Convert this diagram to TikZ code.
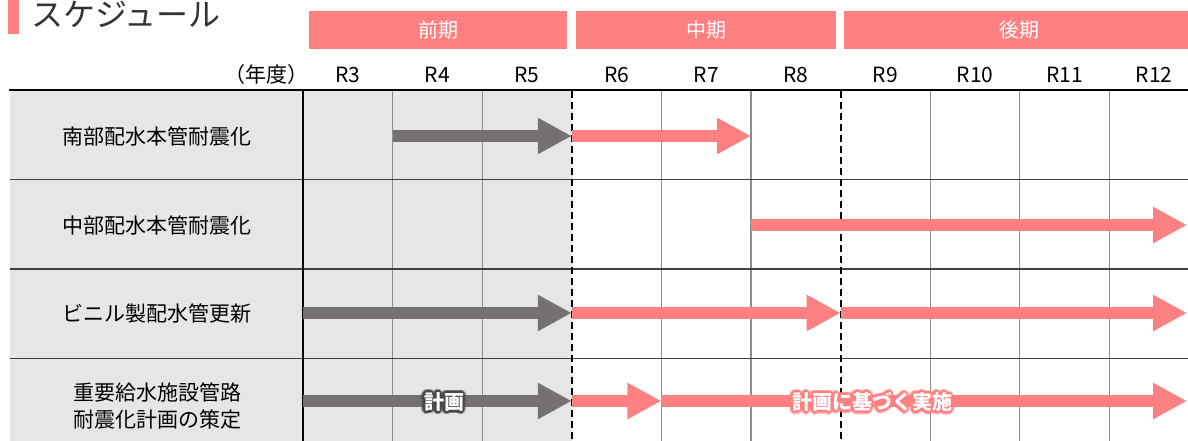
\documentclass[tikz,border=0pt]{standalone}
\usepackage{fontspec}
\setmainfont{Noto Sans CJK JP}
\usetikzlibrary{arrows.meta}
\definecolor{pinkc}{HTML}{FF8080}
\definecolor{grayarrow}{HTML}{767171}
\definecolor{bggray}{HTML}{E7E6E6}
\definecolor{titlegray}{HTML}{333333}
\definecolor{gridgray}{HTML}{8C8C8C}
\definecolor{rowline}{HTML}{404040}
\definecolor{glowgray}{HTML}{4A4747}
\newcommand\lblfont{\fontsize{20}{27}\selectfont}
\newcommand\rowfont{\fontsize{21}{27}\selectfont}
\newcommand\glowlabel[4]{%
  \foreach \a in {0,20,...,340}{%
    \node[text=#3, opacity=0.3, font=\lblfont\bfseries, xshift={3.4*cos(\a)}, yshift={3.4*sin(\a)}] (#1o\a) at (#2) {#4};
    \node[text=#3, font=\lblfont\bfseries, xshift={1.7*cos(\a)}, yshift={1.7*sin(\a)}] (#1i\a) at (#2) {#4};
  }%
  \node[text=white, font=\lblfont\bfseries] (#1) at (#2) {#4};
}
\begin{document}
\begin{tikzpicture}[x=1pt,y=-1pt,
  blockarrow/.style={line width=12pt, -{Triangle[length=34pt,width=34pt]}},
  grayarr/.style={blockarrow, draw=grayarrow},
  pinkarr/.style={blockarrow, draw=pinkc},
  hdrbar/.style={fill=pinkc, draw=none, inner sep=0pt, minimum height=38pt, text=white, font=\lblfont},
  yearlbl/.style={font=\rowfont, text=black, inner sep=0pt},
  rowlbl/.style={font=\rowfont, text=black, align=center, inner sep=0pt},
  thingrid/.style={draw=gridgray, line width=1.3pt},
  phaseline/.style={draw=black, line width=2pt, dash pattern=on 7pt off 4pt},
  rowsep/.style={draw=rowline, line width=1.4pt}
]
\useasboundingbox (0,0) rectangle (1188,441);
\clip (0,0) rectangle (1188,441);

% title
\fill[pinkc] (8,0) rectangle (19,34);
\node[anchor=west, font=\fontsize{32}{32}\selectfont, text=titlegray, inner sep=0pt] (title) at (31,14) {スケジュール};

% phase header bars
\node[hdrbar, minimum width=258pt] (zenki) at (438,30) {前期};
\node[hdrbar, minimum width=260pt] (chuki) at (706,30) {中期};
\node[hdrbar, minimum width=350pt] (koki) at (1019,30) {後期};

% year labels
\node[yearlbl, anchor=east] (nendo) at (309,75) {（年度）};
\foreach \k/\lab in {0/R3,1/R4,2/R5,3/R6,4/R7,5/R8,6/R9,7/R10,8/R11,9/R12}{
  \node[yearlbl] (y\k) at ({303+89.6*\k+44.8},75) {\lab};
}

% background
\fill[bggray] (10,90) rectangle (571.8,441);

% thin grid lines
\foreach \k in {1,2,4,5,7,8,9}{
  \draw[thingrid] ({303+89.6*\k},90) -- ({303+89.6*\k},441);
}
% row separators
\foreach \y in {179.5,269,358.5}{
  \draw[rowsep] (10,\y) -- (1188,\y);
}
% phase dashed lines
\draw[phaseline] (571.8,91) -- (571.8,441);
\draw[phaseline] (840.6,91) -- (840.6,441);
% main lines
\draw[black, line width=2.5pt] (9,90) -- (1188,90);
\draw[black, line width=2.5pt] (303,90) -- (303,441);

% row labels
\node[rowlbl] (l1) at (157,136) {南部配水本管耐震化};
\node[rowlbl] (l2) at (157,225) {中部配水本管耐震化};
\node[rowlbl] (l3) at (157,314) {ビニル製配水管更新};
\node[rowlbl] (l4) at (157,406) {重要給水施設管路\\耐震化計画の策定};

% coordinates for arrows
\foreach \r/\y in {1/136,2/225,3/313,4/401}{
  \foreach \k in {0,...,6}{
    \coordinate (p\r-\k) at ({303+89.6*\k},\y);
  }
  \coordinate (e\r) at (1187,\y);
}

% arrows
\draw[grayarr] (p1-1) -- (p1-3);
\draw[pinkarr] (p1-3) -- (p1-5);
\draw[pinkarr] (p2-5) -- (e2);
\draw[grayarr] (p3-0) -- (p3-3);
\draw[pinkarr] (p3-3) -- (p3-6);
\draw[pinkarr] (p3-6) -- (e3);
\draw[grayarr] (p4-0) -- (p4-3);
\draw[pinkarr] (p4-3) -- (p4-4);
\draw[pinkarr] (p4-4) -- (e4);

% arrow labels
\coordinate (g1) at (444,402);
\coordinate (g2) at (872,402);
\glowlabel{plan}{g1}{glowgray}{計画}
\glowlabel{impl}{g2}{pinkc}{計画に基づく実施}
\end{tikzpicture}
\end{document}
